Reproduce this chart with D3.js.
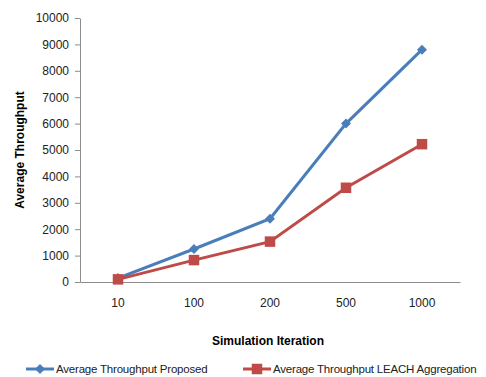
<!DOCTYPE html>
<html lang="en">
<head>
    <meta charset="UTF-8">
    <title>Average Throughput</title>
    <style>
        body { margin: 0; background: white; }
        svg { display: block; font-family: "Liberation Sans", Arial, sans-serif; }
        .tick text { font-size: 12px; fill: #222; }
    </style>
    <script src="https://d3js.org/d3.v7.min.js"></script>
</head>
<body>
<div id="chart"></div>
<script>
    // chart data
    const iterations = ["10", "100", "200", "500", "1000"];
    const proposed = [150, 1250, 2400, 6000, 8800];
    const leach = [100, 830, 1530, 3570, 5220];
    const yTicks = [0, 1000, 2000, 3000, 4000, 5000, 6000, 7000, 8000, 9000, 10000];

    const width = 486, height = 377;
    const plotLeft = 80, plotRight = 460, plotTop = 18, plotBottom = 282;

    const svg = d3.select("#chart").append("svg")
        .attr("width", width)
        .attr("height", height);

    const x = d3.scaleBand().domain(iterations).range([plotLeft, plotRight]);
    const y = d3.scaleLinear().domain([0, 10000]).range([plotBottom, plotTop]);

    // y axis
    const yAxis = svg.append("g")
        .attr("transform", `translate(${plotLeft},0)`)
        .call(d3.axisLeft(y).tickValues(yTicks).tickFormat(d3.format("d"))
            .tickSize(5).tickPadding(6).tickSizeOuter(0));
    yAxis.selectAll("line, path").attr("stroke", "#8c8c8c");

    // x axis
    const xAxis = svg.append("g")
        .attr("transform", `translate(0,${plotBottom})`)
        .call(d3.axisBottom(x).tickSize(0).tickPadding(16).tickSizeOuter(0));
    xAxis.selectAll("path").attr("stroke", "#8c8c8c");

    // axis titles
    svg.append("text")
        .attr("transform", `translate(24,${(plotTop + plotBottom) / 2}) rotate(-90)`)
        .attr("text-anchor", "middle")
        .attr("font-size", 12)
        .attr("font-weight", "bold")
        .text("Average Throughput");

    svg.append("text")
        .attr("x", (plotLeft + plotRight) / 2 - 2)
        .attr("y", 345)
        .attr("text-anchor", "middle")
        .attr("font-size", 12)
        .attr("font-weight", "bold")
        .text("Simulation Iteration");

    const line = d3.line()
        .x((d, i) => x(iterations[i]) + x.bandwidth() / 2)
        .y(d => y(d));

    // diamond = square turned 45 degrees, like the spreadsheet marker
    const series = [
        { name: "Average Throughput Proposed", values: proposed, color: "#4a7ebb", shape: d3.symbolSquare, size: 50, rot: 45 },
        { name: "Average Throughput LEACH Aggregation", values: leach, color: "#be4b48", shape: d3.symbolSquare, size: 110, rot: 0 }
    ];

    series.forEach(s => {
        svg.append("path")
            .datum(s.values)
            .attr("fill", "none")
            .attr("stroke", s.color)
            .attr("stroke-width", 3)
            .attr("d", line);

        svg.append("g")
            .selectAll("path")
            .data(s.values)
            .enter().append("path")
            .attr("transform", (d, i) => `translate(${x(iterations[i]) + x.bandwidth() / 2},${y(d)}) rotate(${s.rot})`)
            .attr("d", d3.symbol().type(s.shape).size(s.size))
            .attr("fill", s.color);
    });

    // legend
    const legendX = [26, 243];
    series.forEach((s, i) => {
        const g = svg.append("g").attr("transform", `translate(${legendX[i]},369)`);
        g.append("line")
            .attr("x1", 0).attr("x2", 28)
            .attr("stroke", s.color).attr("stroke-width", 3);
        g.append("path")
            .attr("transform", `translate(14,0) rotate(${s.rot})`)
            .attr("d", d3.symbol().type(s.shape).size(s.size))
            .attr("fill", s.color);
        g.append("text")
            .attr("x", 30)
            .attr("y", 4)
            .attr("font-size", 11.5)
            .attr("letter-spacing", -0.2)
            .attr("fill", "#222")
            .text(s.name);
    });
</script>
</body>
</html>
